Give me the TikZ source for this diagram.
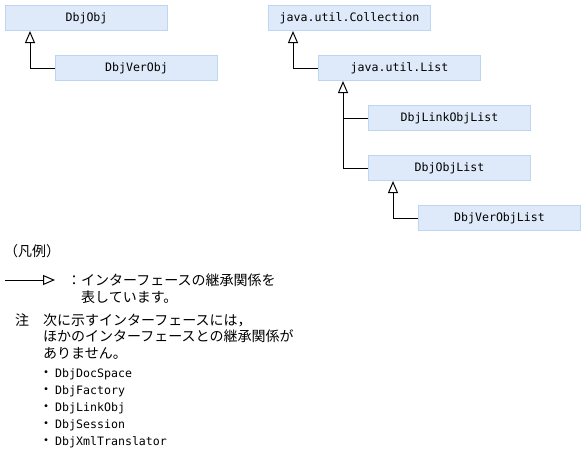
\documentclass[tikz,border=0pt]{standalone}
\usepackage{fontspec}
\setmainfont{Noto Sans CJK JP}
\newfontfamily\codefont{DejaVu Sans Mono}
\usepackage{tikz}
\usetikzlibrary{arrows.meta, calc}
\definecolor{boxfill}{RGB}{222,234,250}
\definecolor{boxline}{RGB}{188,214,244}
\newcommand{\apiitem}[1]{\makebox[12pt][l]{\kern-4pt ・}{\codefont\fontsize{11.6}{17}\selectfont #1}}

\begin{document}
\begin{tikzpicture}[x=1pt, y=-1pt,
    classbox/.style={rectangle, fill=boxfill, draw=boxline, line width=1pt, minimum width=162pt, minimum height=25pt, inner sep=0pt, anchor=north west, font=\codefont\fontsize{11.6}{14}\selectfont, text height=8.5pt, text depth=2.5pt},
    inherit/.style={-{Triangle[open, length=12pt, width=10pt]}, line width=1pt, black},
    jtext/.style={anchor=base west, inner sep=0pt, align=left, font=\fontsize{14}{17}\selectfont}]
    \useasboundingbox (0,0) rectangle (585,461);

    % DbjObj tree
    \node[classbox] (dbjobj) at (5,5) {DbjObj};
    \node[classbox] (verobj) at (55,55) {DbjVerObj};
    \draw[inherit] (verobj.west) -| ([xshift=25pt]dbjobj.south west);

    % Collection tree
    \node[classbox] (collection) at (268,5) {java.util.Collection};
    \node[classbox] (list) at (318,55) {java.util.List};
    \node[classbox] (linklist) at (368,105) {DbjLinkObjList};
    \node[classbox] (objlist) at (368,155) {DbjObjList};
    \node[classbox] (verlist) at (418,205) {DbjVerObjList};
    \coordinate (listfoot) at ([xshift=25pt]list.south west);

    \draw[inherit] (list.west) -| ([xshift=25pt]collection.south west);
    \draw[inherit] (objlist.west) -| (listfoot);
    \draw[line width=1pt] (linklist.west) -- (linklist.west -| listfoot);
    \draw[inherit] (verlist.west) -| ([xshift=25pt]objlist.south west);

    % Legend (multi-line nodes sit on their last baseline)
    \node[jtext] (legendhead) at (4,256) {（凡例）};
    \coordinate (keyfrom) at (5,280);
    \coordinate (keyto) at (55,280);
    \draw[inherit] (keyfrom) -- (keyto);
    \node[jtext] (legendtext) at (67,302) {：インターフェースの継承関係を\\\phantom{：}表しています。};

    % Note
    \node[jtext] (notemark) at (15,325) {注};
    \node[jtext, font=\fontsize{14}{16.5}\selectfont] (notetext) at (43,358) {次に示すインターフェースには，\\ほかのインターフェースとの継承関係が\\ありません。};
    \node[jtext] (apilist) at (43,445) {\apiitem{DbjDocSpace}\\\apiitem{DbjFactory}\\\apiitem{DbjLinkObj}\\\apiitem{DbjSession}\\\apiitem{DbjXmlTranslator}};
\end{tikzpicture}
\end{document}
